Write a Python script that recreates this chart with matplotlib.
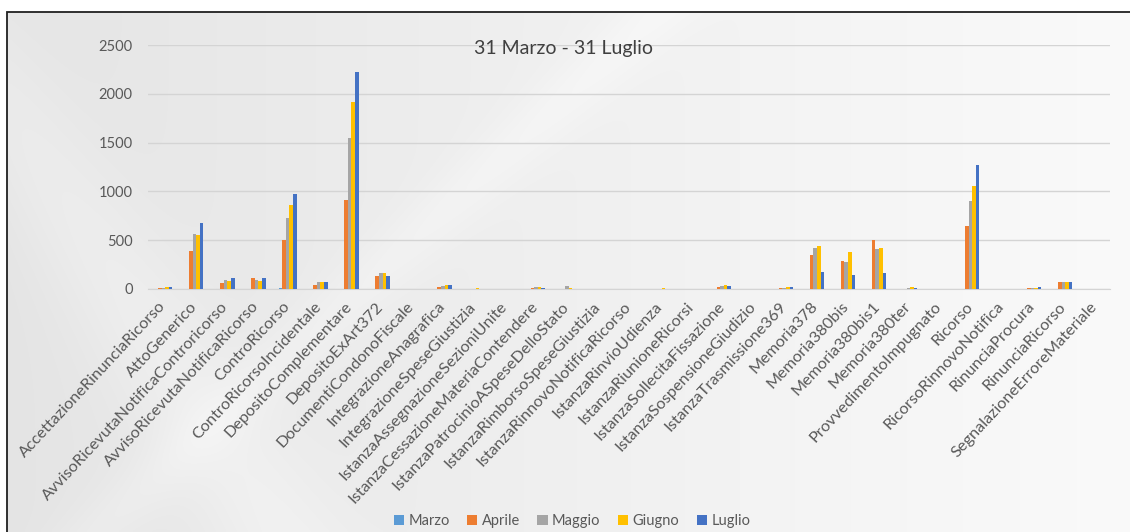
import numpy as np
import matplotlib
matplotlib.use("Agg")
import matplotlib.pyplot as plt
from matplotlib.patches import Rectangle

categories = [
    "AccettazioneRinunciaRicorso", "AttoGenerico", "AvvisoRicevutaNotificaControricorso",
    "AvvisoRicevutaNotificaRicorso", "ControRicorso", "ControRicorsoIncidentale",
    "DepositoComplementare", "DepositoExArt372", "DocumentiCondonoFiscale",
    "IntegrazioneAnagrafica", "IntegrazioneSpeseGiustizia", "IstanzaAssegnazioneSezioniUnite",
    "IstanzaCessazioneMateriaContendere", "IstanzaPatrocinioASpeseDelloStato",
    "IstanzaRimborsoSpeseGiustizia", "IstanzaRinnovoNotificaRicorso", "IstanzaRinvioUdienza",
    "IstanzaRiunioneRicorsi", "IstanzaSollecitaFissazione", "IstanzaSospensioneGiudizio",
    "IstanzaTrasmissione369", "Memoria378", "Memoria380bis", "Memoria380bis1",
    "Memoria380ter", "ProvvedimentoImpugnato", "Ricorso", "RicorsoRinnovoNotifica",
    "RinunciaProcura", "RinunciaRicorso", "SegnalazioneErroreMateriale",
]

marzo = [0, 2, 0, 0, 15, 0, 5, 0, 0, 0, 0, 0, 0, 0, 0, 0, 0, 0, 0, 0, 0, 5, 3, 3, 0, 0, 5, 0, 0, 0, 0]
aprile = [10, 393, 65, 112, 502, 41, 912, 133, 2, 25, 3, 0, 15, 5, 2, 0, 3, 2, 20, 0, 8, 348, 290, 502, 5, 2, 649, 2, 8, 75, 2]
maggio = [15, 560, 92, 88, 724, 68, 1544, 167, 3, 35, 5, 2, 18, 30, 3, 1, 5, 3, 30, 2, 12, 424, 273, 414, 10, 3, 902, 3, 12, 75, 3]
giugno = [25, 553, 80, 80, 861, 76, 1920, 160, 3, 40, 8, 2, 20, 8, 3, 1, 6, 4, 38, 3, 18, 441, 376, 424, 20, 3, 1059, 4, 15, 75, 4]
luglio = [20, 673, 116, 112, 974, 68, 2228, 133, 2, 38, 5, 1, 15, 5, 2, 1, 5, 3, 35, 2, 22, 171, 143, 160, 10, 2, 1271, 5, 22, 70, 2]

series_names = ["Marzo", "Aprile", "Maggio", "Giugno", "Luglio"]
series_values = [marzo, aprile, maggio, giugno, luglio]
colors = ["#5B9BD5", "#ED7D31", "#A5A5A5", "#FFC000", "#4472C4"]

plt.rcParams['font.family'] = ['Lato', 'DejaVu Sans']

W, H = 1130, 532
fig = plt.figure(figsize=(W / 100, H / 100), dpi=100)
fig.patch.set_facecolor("white")

# background panel with soft gradient (grey on the left, lighter on the right)
bg = fig.add_axes([7 / W, 0, 1 - 7 / W, 1 - 12 / H])
bg.set_axis_off()
xx = np.linspace(0, 1, 400)
yy = np.linspace(0, 1, 200)
X, Y = np.meshgrid(xx, yy)
val = 0.895 + 0.085 * np.clip(X, 0, 1) ** 0.9
val = val + 0.025 * np.exp(-((X - 0.12 - (Y - 0.6) * 0.3) ** 2) / 0.004)
val = val + 0.02 * np.exp(-((X - 0.33 + (Y - 0.5) * 0.5) ** 2) / 0.0015)
val = np.clip(val, 0, 1)
bg.imshow(np.dstack([val, val, val]), aspect="auto", extent=[0, 1, 0, 1], interpolation="bilinear")
bg.set_xlim(0, 1)
bg.set_ylim(0, 1)
fig.patches.append(Rectangle((7 / W, -0.1), 1.2, 1 - 12 / H + 0.1, transform=fig.transFigure,
                             fill=False, edgecolor="#202020", linewidth=1.3, zorder=5))

ax = fig.add_axes([148 / W, 1 - 289 / H, (1110 - 148) / W, (289 - 45) / H])
ax.set_facecolor("none")
n = len(categories)
x = np.arange(n)
bw = 0.115
for i, (name, vals, c) in enumerate(zip(series_names, series_values, colors)):
    ax.bar(x + (i - 2) * bw, vals, width=bw, color=c, label=name, zorder=3, linewidth=0)

ax.set_xlim(-0.5, n - 0.5)
ax.set_ylim(0, 2500)
ax.set_yticks([0, 500, 1000, 1500, 2000, 2500])
ax.yaxis.grid(True, color="#d4d4d4", linewidth=1)
ax.set_axisbelow(True)
for s in ["top", "right", "left"]:
    ax.spines[s].set_visible(False)
ax.spines["bottom"].set_color("#d4d4d4")
ax.tick_params(axis="y", length=0, labelsize=10.5, labelcolor="#595959", pad=11)
ax.tick_params(axis="x", length=0, labelsize=11.7, labelcolor="#595959", pad=11)
ax.set_xticks(x)
ax.set_xticklabels(categories, rotation=47, ha="right", va="center", rotation_mode="anchor")

ax.text((563 - 148) / (1110 - 148), 0.985, "31 Marzo - 31 Luglio", transform=ax.transAxes,
        ha="center", va="center", fontsize=14, color="#404040")

fig.legend(loc="center", bbox_to_anchor=(572 / W, 1 - 521 / H), ncol=5, frameon=False,
           fontsize=10.5, handlelength=0.7, handleheight=0.7, handletextpad=0.3,
           columnspacing=1.2, labelcolor="#595959")

fig.savefig("out.png", dpi=100)
